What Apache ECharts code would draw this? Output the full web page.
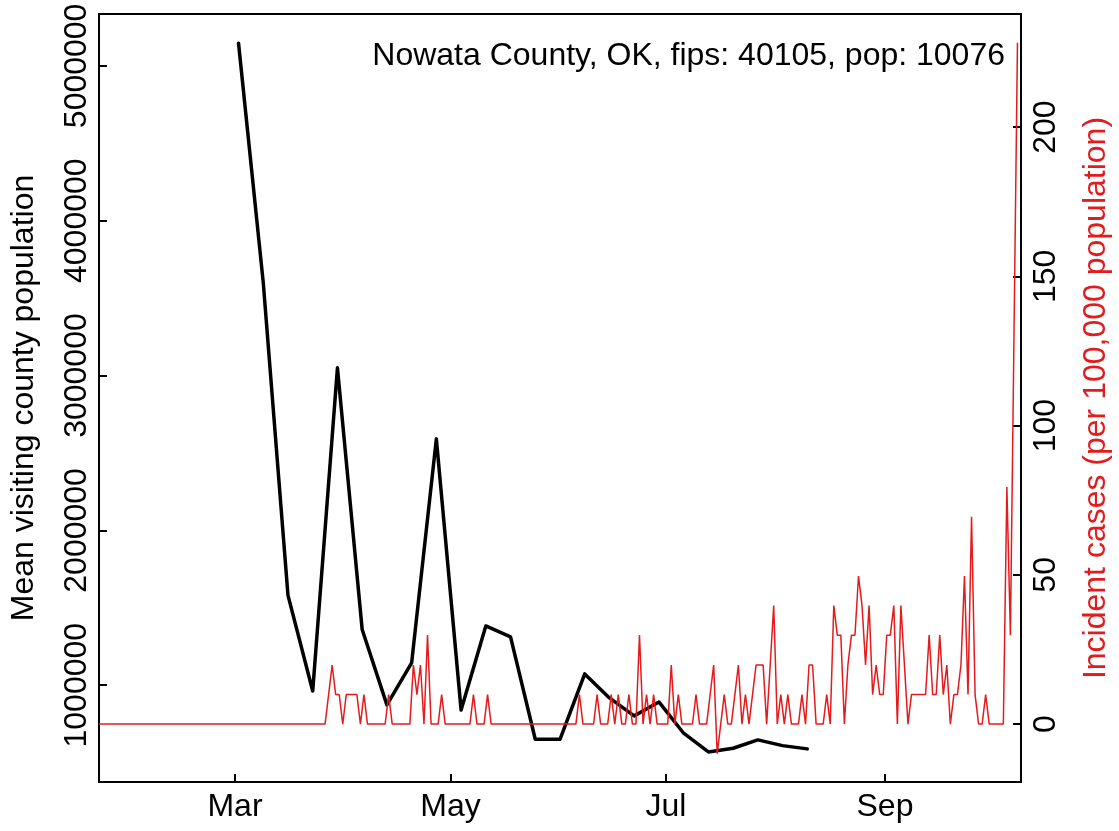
<!DOCTYPE html>
<html>
<head>
<meta charset="utf-8">
<script src="https://cdn.jsdelivr.net/npm/echarts@6/dist/echarts.min.js"></script>
<style>
html,body{margin:0;padding:0;background:#fff}
#chart{width:1119px;height:831px}
</style>
</head>
<body>
<div id="chart"></div>
<script>
// weekly mean visiting county population
var weekDates = ['2020-03-02','2020-03-09','2020-03-16','2020-03-23','2020-03-30','2020-04-06',
  '2020-04-13','2020-04-20','2020-04-27','2020-05-04','2020-05-11','2020-05-18','2020-05-25',
  '2020-06-01','2020-06-08','2020-06-15','2020-06-22','2020-06-29','2020-07-06','2020-07-13',
  '2020-07-20','2020-07-27','2020-08-03','2020-08-10'];
var visitPop = [5146000,3600000,1580000,963000,3050000,1360000,873000,1144000,2591000,840000,
  1383000,1312000,651000,651000,1073000,918000,802000,892000,690000,569000,593000,647000,
  610000,589000];

// daily incident cases per 100,000, one value per day from caseStart
var caseStart = '2020-01-22';
var caseRate = [
  0,0,0,0,0,0,0,0,0,0,
  0,0,0,0,0,0,0,0,0,0,
  0,0,0,0,0,0,0,0,0,0,
  0,0,0,0,0,0,0,0,0,0,
  0,0,0,0,0,0,0,0,0,0,
  0,0,0,0,0,0,0,0,0,0,
  0,0,0,0,0,
  9.9,19.8,9.9,9.9,0,9.9,9.9,9.9,9.9,0,9.9,0,
  0,0,0,0,0,9.9,0,0,0,0,0,0,
  19.8,9.9,19.8,0,29.8,0,0,0,9.9,
  0,0,0,0,0,0,0,0,9.9,0,0,0,9.9,
  0,0,0,0,0,0,0,0,0,0,0,0,0,0,0,0,0,0,0,0,0,0,0,0,0,
  9.9,0,0,0,0,9.9,0,0,0,
  9.9,0,9.9,0,0,9.9,0,0,29.8,0,9.9,0,9.9,
  0,0,0,0,19.8,0,9.9,0,0,0,0,9.9,0,0,0,
  9.9,19.8,-9.9,0,9.9,0,0,9.9,19.8,0,9.9,0,9.9,19.8,19.8,19.8,0,19.8,39.7,0,9.9,0,9.9,
  0,0,0,9.9,0,19.8,19.8,0,0,0,
  9.9,0,39.7,29.8,29.8,0,19.8,29.8,29.8,49.6,39.7,19.8,39.7,9.9,19.8,9.9,9.9,29.8,29.8,39.7,
  0,39.7,19.8,0,9.9,9.9,9.9,9.9,9.9,29.8,9.9,9.9,29.8,9.9,19.8,0,9.9,9.9,19.8,49.6,
  9.9,69.5,9.9,0,0,9.9,
  0,0,0,0,0,
  79.4,29.8,129.0,228.3
];

var monthTicks = ['2020-03-01','2020-05-01','2020-07-01','2020-09-01'];
var monthLabels = ['Mar','May','Jul','Sep'];
var leftTicks = [1000000,2000000,3000000,4000000,5000000];
var rightTicks = [0,50,100,150,200];

var titleText = 'Nowata County, OK, fips: 40105, pop: 10076';
var font = "'Liberation Sans', Arial, Helvetica, sans-serif";
var red = '#e41a1c';
var DAY = 86400000;

function ts(s){
  var p = s.split('-');
  return Date.UTC(+p[0], +p[1]-1, +p[2]);
}

var tickTimes = monthTicks.map(ts);
var xMin = ts('2020-01-22') + DAY/2;
var xMax = ts('2020-10-09') + DAY/2;

var blackData = weekDates.map(function(d,i){ return [ts(d), visitPop[i]]; });
var redData = caseRate.map(function(v,i){ return [ts(caseStart) + i*DAY + DAY/2, v]; });

var chart = echarts.init(document.getElementById('chart'), null, {renderer:'canvas'});

function axisText(color){
  return {fontSize:32, color:color, fontFamily:font};
}

var option = {
  animation:false,
  backgroundColor:'#fff',
  title:{
    text:titleText, right:114, top:40, padding:0,
    textStyle:{fontSize:32, fontWeight:'normal', color:'#000', fontFamily:font}
  },
  grid:{
    left:99, right:98, top:14, bottom:49,
    show:true, borderColor:'#000', borderWidth:2,
    containLabel:false, outerBoundsMode:'none'
  },
  xAxis:{
    type:'value', min:xMin, max:xMax,
    axisLine:{show:false, onZero:false}, splitLine:{show:false},
    axisTick:{inside:true, length:8, customValues:tickTimes, lineStyle:{color:'#000', width:2}},
    axisLabel:Object.assign({
      customValues:tickTimes, margin:9,
      formatter:function(v){ return monthLabels[tickTimes.indexOf(v)]; }
    }, axisText('#000'))
  },
  yAxis:[{
    type:'value', position:'left', min:375000, max:5335000,
    axisLine:{show:false, onZero:false}, splitLine:{show:false},
    axisTick:{inside:true, length:8, customValues:leftTicks, lineStyle:{color:'#000', width:2}},
    axisLabel:Object.assign({
      customValues:leftTicks, rotate:90, margin:6,
      formatter:function(v){ return String(v); }
    }, axisText('#000')),
    name:'Mean visiting county population', nameLocation:'middle', nameRotate:90, nameGap:59,
    nameTextStyle:axisText('#000')
  },{
    type:'value', position:'right', min:-19.4, max:237.9,
    axisLine:{show:false, onZero:false}, splitLine:{show:false},
    axisTick:{inside:true, length:8, customValues:rightTicks, lineStyle:{color:'#000', width:2}},
    axisLabel:Object.assign({
      customValues:rightTicks, rotate:90, margin:9,
      formatter:function(v){ return String(v); }
    }, axisText('#000')),
    name:'Incident cases (per 100,000 population)', nameLocation:'middle', nameRotate:90, nameGap:59,
    nameTextStyle:axisText(red)
  }],
  series:[{
    type:'line', yAxisIndex:0, data:blackData, symbol:'none',
    lineStyle:{color:'#000', width:3.5, cap:'round', join:'round'}, z:2
  },{
    type:'line', yAxisIndex:1, data:redData, symbol:'none',
    lineStyle:{color:red, width:1.5}, z:3
  }]
};

chart.setOption(option);
</script>
</body>
</html>
